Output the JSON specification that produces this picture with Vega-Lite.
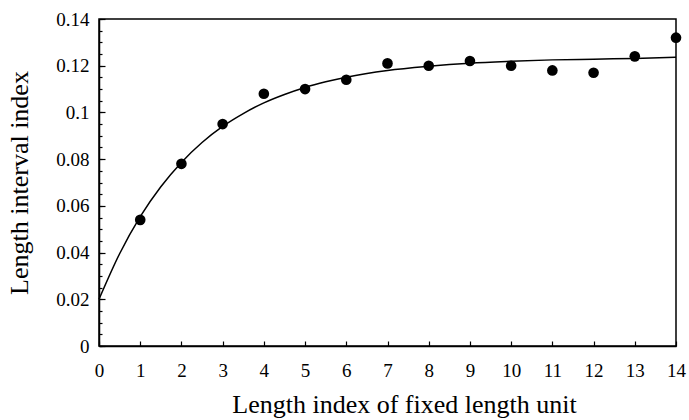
{
  "$schema": "https://vega.github.io/schema/vega-lite/v6.json",
  "width": 577,
  "height": 327,
  "autosize": "none",
  "padding": {"left": 99, "top": 19, "right": 13, "bottom": 74},
  "background": "white",
  "config": {
    "view": {"stroke": "black", "strokeWidth": 1.5},
    "font": "Liberation Serif",
    "axis": {
      "grid": false,
      "domainColor": "black",
      "domainWidth": 1.5,
      "tickColor": "black",
      "tickWidth": 1.2,
      "labelFont": "Liberation Serif",
      "labelFontSize": 19,
      "labelColor": "black",
      "labelFlush": false,
      "titleFont": "Liberation Serif",
      "titleFontSize": 26,
      "titleFontWeight": "normal",
      "titleColor": "black"
    }
  },
  "datasets": {
    "points": [
      {"x": 1, "y": 0.054}, {"x": 2, "y": 0.078}, {"x": 3, "y": 0.095},
      {"x": 4, "y": 0.108}, {"x": 5, "y": 0.110}, {"x": 6, "y": 0.114},
      {"x": 7, "y": 0.121}, {"x": 8, "y": 0.120}, {"x": 9, "y": 0.122},
      {"x": 10, "y": 0.120}, {"x": 11, "y": 0.118}, {"x": 12, "y": 0.117},
      {"x": 13, "y": 0.124}, {"x": 14, "y": 0.132}
    ],
    "fit": [
      {"x": 0, "y": 0.0200}, {"x": 0.5, "y": 0.0395}, {"x": 1, "y": 0.0554},
      {"x": 1.5, "y": 0.0682}, {"x": 2, "y": 0.0786}, {"x": 2.5, "y": 0.0871},
      {"x": 3, "y": 0.0940}, {"x": 3.5, "y": 0.0995}, {"x": 4, "y": 0.1041},
      {"x": 4.5, "y": 0.1077}, {"x": 5, "y": 0.1107}, {"x": 5.5, "y": 0.1131},
      {"x": 6, "y": 0.1151}, {"x": 7, "y": 0.1180}, {"x": 8, "y": 0.1198},
      {"x": 9, "y": 0.1211}, {"x": 10, "y": 0.1219}, {"x": 11, "y": 0.1225},
      {"x": 12, "y": 0.1228}, {"x": 13, "y": 0.1231}, {"x": 14, "y": 0.1236}
    ]
  },
  "layer": [
    {
      "data": {"name": "fit"},
      "mark": {"type": "line", "color": "black", "strokeWidth": 1.5, "interpolate": "monotone"},
      "encoding": {
        "x": {"field": "x", "type": "quantitative", "scale": {"domain": [0, 14], "nice": false},
          "axis": {"values": [0,1,2,3,4,5,6,7,8,9,10,11,12,13,14], "tickSize": -5, "labelPadding": 20, "title": "Length index of fixed length unit", "titlePadding": 11, "titleX": 305}},
        "y": {"field": "y", "type": "quantitative", "scale": {"domain": [0, 0.14], "nice": false},
          "axis": {"orient": "left", "values": [0,0.005,0.01,0.015,0.02,0.025,0.03,0.035,0.04,0.045,0.05,0.055,0.06,0.065,0.07,0.075,0.08,0.085,0.09,0.095,0.1,0.105,0.11,0.115,0.12,0.125,0.13,0.135,0.14], "tickSize": -3, "labels": false, "domain": false, "title": null}}
      }
    },
    {
      "data": {"name": "points"},
      "mark": {"type": "circle", "color": "black", "opacity": 1, "size": 113},
      "encoding": {
        "x": {"field": "x", "type": "quantitative"},
        "y": {"field": "y", "type": "quantitative",
          "axis": {"orient": "left", "values": [0,0.02,0.04,0.06,0.08,0.1,0.12,0.14], "format": "~g", "tickSize": -6, "labelPadding": 16, "title": "Length interval index", "titlePadding": 23}}
      }
    }
  ],
  "resolve": {"axis": {"y": "independent"}}
}
